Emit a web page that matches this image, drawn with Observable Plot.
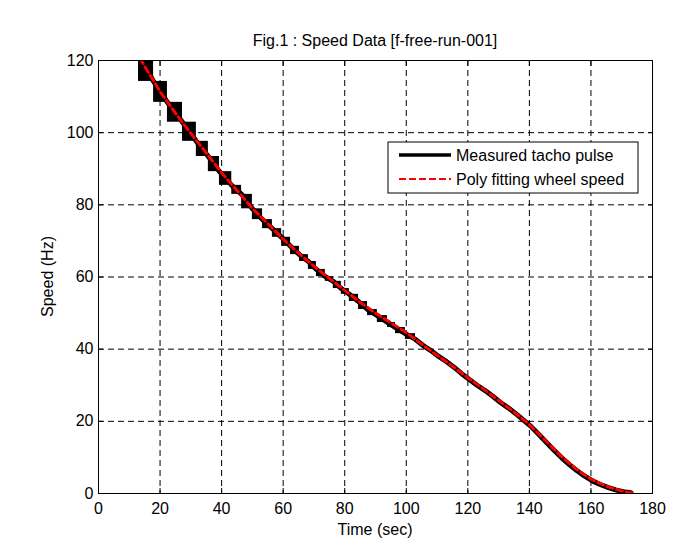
<!DOCTYPE html>
<html>
<head>
<meta charset="utf-8">
<script src="https://cdn.jsdelivr.net/npm/d3@7"></script>
<script src="https://cdn.jsdelivr.net/npm/@observablehq/plot@0.6"></script>
<style>
  body { margin: 0; background: #fff; }
  svg { font-family: "Liberation Sans", Arial, sans-serif; }
</style>
</head>
<body>
<div id="chart"></div>
<script>
// ---- data ----
const xTicks = [0, 20, 40, 60, 80, 100, 120, 140, 160, 180];
const yTicks = [0, 20, 40, 60, 80, 100, 120];

// measured tacho pulse (step corners, sec / Hz)
const tachoTime = [13.0, 17.9, 22.4, 27.3, 31.8, 35.7, 39.3, 43.3, 46.5, 50.0, 53.3, 56.5, 59.5, 62.4, 65.3,
  68.2, 70.8, 73.7, 76.3, 78.9, 81.5, 84.5, 87.4, 90.6, 93.9, 96.5, 99.7, 103.0, 105.5, 108.0, 110.5,
  113.0, 115.5, 118.0, 120.5, 123.0, 125.5, 128.0, 130.5, 133.0, 135.5, 138.0, 140.5, 143.0, 145.5,
  148.0, 150.5, 153.0, 155.5, 158.0, 160.5, 163.0, 165.5, 168.0, 170.5, 173.0];
const tachoSpeed = [121.5, 114.2, 108.4, 102.9, 97.6, 93.4, 89.2, 85.4, 82.9, 78.9, 75.9, 73.4, 71.0, 68.5, 66.2,
  64.3, 62.1, 60.1, 58.8, 56.8, 55.2, 53.2, 51.0, 49.3, 47.4, 46.0, 44.3, 42.7, 41.0, 39.6, 38.0,
  36.6, 35.0, 33.2, 31.6, 30.0, 28.6, 27.0, 25.3, 23.8, 22.2, 20.4, 18.6, 16.4, 14.2,
  12.0, 9.9, 8.0, 6.3, 4.8, 3.5, 2.5, 1.7, 1.0, 0.5, 0.2];

// poly fitting wheel speed (sec / Hz)
const fitTime = [13.5, 15, 20, 25, 30, 35, 40, 45, 50, 55, 60, 65, 70, 75, 80, 85, 90, 95, 100,
  105, 110, 115, 120, 125, 130, 135, 140, 145, 150, 155, 160, 165, 170, 173.5];
const fitSpeed = [120.6, 118.4, 111.4, 105.4, 99.8, 94.4, 88.9, 84.0, 79.0, 74.8, 70.5, 66.6, 63.0, 59.6, 56.3,
  53.0, 50.0, 47.3, 44.6, 41.4, 38.3, 35.3, 32.1, 29.0, 25.8, 22.6, 19.1, 14.9, 10.6, 6.9, 4.0, 2.0, 0.7, 0.1];

const titleText = "Fig.1 : Speed Data [f-free-run-001]";
const xLabel = "Time (sec)";
const yLabel = "Speed (Hz)";
const legendLabels = ["Measured tacho pulse", "Poly fitting wheel speed"];

// ---- derived tables ----
const tacho = tachoTime.map((t, i) => ({t, v: tachoSpeed[i]}));
// coarse pulse steps (long pulse intervals) show as blocks; fine steps merge into the thick line
const steps = tacho.slice(0, -1)
  .map((d, i) => ({x1: d.t, x2: tacho[i + 1].t, y1: tacho[i + 1].v, y2: d.v}))
  .filter(d => d.x2 - d.x1 > 2.55);
const fit = fitTime.map((t, i) => ({t, v: fitSpeed[i]}));

const W = 690, H = 556, ML = 98, MR = 38, MT = 60, MB = 63;
const FONT = "'Liberation Sans', Arial, sans-serif";

const chart = Plot.plot({
  width: W, height: H,
  marginLeft: ML, marginRight: MR, marginTop: MT, marginBottom: MB,
  style: {fontFamily: FONT, fontSize: "16px", color: "black", background: "white", overflow: "visible"},
  x: {domain: [0, 180]},
  y: {domain: [0, 120]},
  marks: [
    Plot.gridX(xTicks, {stroke: "black", strokeOpacity: 1, strokeWidth: 1, strokeDasharray: "6,4"}),
    Plot.gridY(yTicks, {stroke: "black", strokeOpacity: 1, strokeWidth: 1, strokeDasharray: "6,4"}),
    Plot.rect(steps, {x1: "x1", x2: "x2", y1: "y1", y2: "y2", fill: "black", clip: true}),
    Plot.line(tacho, {x: "t", y: "v", stroke: "black", strokeWidth: 5, clip: true}),
    Plot.line(fit, {x: "t", y: "v", stroke: "#ff0000", strokeWidth: 3, strokeDasharray: "6,4", clip: true}),
    Plot.axisX(xTicks, {anchor: "bottom", tickSize: 0, tickPadding: 9, label: null}),
    Plot.axisY(yTicks, {anchor: "left", tickSize: 0, tickPadding: 5, label: null}),
    Plot.axisX(xTicks, {anchor: "bottom", tickSize: 5, dy: -5, tickFormat: () => "", label: null}),
    Plot.axisX(xTicks, {anchor: "top", tickSize: 5, dy: 5, tickFormat: () => "", label: null}),
    Plot.axisY(yTicks, {anchor: "left", tickSize: 5, dx: 5, tickFormat: () => "", label: null}),
    Plot.axisY(yTicks, {anchor: "right", tickSize: 5, dx: -5, tickFormat: () => "", label: null}),
    Plot.frame({stroke: "black", strokeWidth: 1})
  ]
});

document.getElementById("chart").appendChild(chart);

// ---- title, axis labels, legend ----
const svg = d3.select(chart);
const cx = ML + (W - ML - MR) / 2;
const cy = MT + (H - MT - MB) / 2;

svg.append("text").attr("x", cx).attr("y", 46).attr("text-anchor", "middle")
  .attr("font-family", FONT).attr("font-size", 16).attr("fill", "black").text(titleText);
svg.append("text").attr("x", cx).attr("y", 535).attr("text-anchor", "middle")
  .attr("font-family", FONT).attr("font-size", 16).attr("fill", "black").text(xLabel);
svg.append("text").attr("transform", `translate(53,${cy}) rotate(-90)`).attr("text-anchor", "middle")
  .attr("font-family", FONT).attr("font-size", 16).attr("fill", "black").text(yLabel);

const lg = svg.append("g");
lg.append("rect").attr("x", 388).attr("y", 142).attr("width", 250).attr("height", 51)
  .attr("fill", "white").attr("stroke", "black").attr("stroke-width", 1);
lg.append("line").attr("x1", 399).attr("x2", 451).attr("y1", 155).attr("y2", 155)
  .attr("stroke", "black").attr("stroke-width", 3.5);
lg.append("line").attr("x1", 399).attr("x2", 451).attr("y1", 179).attr("y2", 179)
  .attr("stroke", "#ff0000").attr("stroke-width", 2).attr("stroke-dasharray", "7,3");
legendLabels.forEach((s, i) => {
  lg.append("text").attr("x", 456).attr("y", 155 + i * 24).attr("dy", "0.35em")
    .attr("text-anchor", "start")
    .attr("font-family", FONT).attr("font-size", 16).attr("fill", "black").text(s);
});
</script>
</body>
</html>
